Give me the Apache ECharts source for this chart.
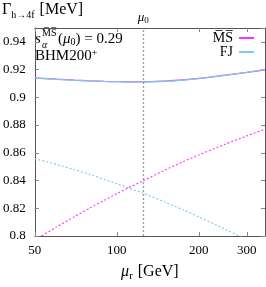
<!DOCTYPE html>
<html><head><meta charset="utf-8">
<script src="https://cdn.jsdelivr.net/npm/echarts@6/dist/echarts.min.js"></script>
<style>html,body{margin:0;padding:0;background:#fff}#c{width:266px;height:287px}</style>
</head><body><div id="c"></div>
<script>
const mu = [50,60,70,80,90,100,110,125,150,175,200,250,300,350];
const msSolid = [0.9141,0.9131,0.9124,0.9119,0.9115,0.9113,0.9112,0.9112,0.9117,0.9125,0.9136,0.9160,0.9180,0.9198];
const fjSolid = [0.9139,0.9130,0.9123,0.9118,0.9115,0.9113,0.9112,0.9112,0.9116,0.9124,0.9135,0.9159,0.9180,0.9200];
const msDotted = [0.7971,0.8064,0.8140,0.8203,0.8258,0.8305,0.8347,0.8398,0.8475,0.8535,0.8584,0.8662,0.8722,0.8770];
const fjDotted = [0.8558,0.8516,0.8478,0.8442,0.8408,0.8377,0.8348,0.8309,0.8245,0.8189,0.8138,0.8049,0.7972,0.7903];
const xTicks = [50,100,200,300];
const mu0 = 125;
const MS = 'M\u0305S\u0305';
const FF = 'Liberation Serif';
const cMS = '#ff33ff', cFJ = '#7ec8ec';

const pair = (ys) => mu.map((m,i)=>[m, ys[i]]);
const chart = echarts.init(document.getElementById('c'));
const axisLine = {show:true, lineStyle:{color:'#555', width:1}};
chart.setOption({
  animation:false,
  grid:{left:32, right:1, top:28, bottom:46},
  xAxis:[{
    type:'log', logBase:10, min:50, max:350,
    axisLine, splitLine:{show:false}, minorTick:{show:false},
    axisTick:{inside:true, length:4, lineStyle:{color:'#888'}, customValues:xTicks},
    axisLabel:{customValues:xTicks, color:'#000', fontFamily:FF, fontSize:13, margin:8},
    name:'{i|μ}{s|r} [GeV]', nameLocation:'middle', nameGap:26,
    nameTextStyle:{color:'#000', fontFamily:FF, fontSize:16,
      rich:{i:{fontStyle:'italic', fontFamily:FF, fontSize:16}, s:{fontSize:11, fontFamily:FF, padding:[9,1,0,0]}}}
  },{
    type:'log', logBase:10, min:50, max:350, position:'top',
    axisLine, splitLine:{show:false},
    axisTick:{inside:true, length:4, lineStyle:{color:'#888'}, customValues:xTicks},
    axisLabel:{show:false}
  }],
  yAxis:[{
    type:'value', min:0.8, max:0.95, interval:0.02,
    axisLine, splitLine:{show:false},
    axisTick:{inside:true, length:4, lineStyle:{color:'#888'}},
    axisLabel:{color:'#000', fontFamily:FF, fontSize:13, margin:9, showMaxLabel:false}
  },{
    type:'value', min:0.8, max:0.95, interval:0.02, position:'right',
    axisLine, splitLine:{show:false},
    axisTick:{inside:true, length:4, lineStyle:{color:'#888'}},
    axisLabel:{show:false}
  }],
  legend:{
    right:12, top:31, orient:'vertical', align:'right', itemGap:0, padding:0,
    itemWidth:15, itemHeight:2, icon:'rect',
    textStyle:{fontFamily:FF, fontSize:14, lineHeight:14, color:'#000', width:24, align:'right', padding:[0,1,0,0]},
    data:[{name:MS, itemStyle:{color:cMS}}, {name:'FJ', itemStyle:{color:cFJ}}]
  },
  series:[
    {name:MS, type:'line', data:pair(msSolid), showSymbol:false, smooth:0.3, lineStyle:{color:cMS, width:1.3}, itemStyle:{color:cMS},
     markLine:{silent:true, symbol:'none', lineStyle:{color:'#999', type:[2,2], width:1.3},
       label:{position:'end', distance:3, formatter:'{i|μ}{s|0}', color:'#000',
         rich:{i:{fontStyle:'italic', fontFamily:FF, fontSize:13}, s:{fontFamily:FF, fontSize:9, padding:[5,0,0,0]}}},
       data:[{xAxis:mu0}]}},
    {name:'FJ', type:'line', data:pair(fjSolid), showSymbol:false, smooth:0.3, lineStyle:{color:cFJ, width:1.3}, itemStyle:{color:cFJ}},
    {name:'msD', type:'line', data:pair(msDotted), showSymbol:false, smooth:0.2, lineStyle:{color:cMS, width:1.1, type:[2,2]}},
    {name:'fjD', type:'line', data:pair(fjDotted), showSymbol:false, smooth:0.2, lineStyle:{color:cFJ, width:1.1, type:[2,2]}}
  ],
  graphic:[
    {type:'text', left:2, top:2, style:{text:'Γ{s|h→4f} [MeV]', font:'16px '+FF, fill:'#000',
      rich:{s:{font:'10px '+FF, padding:[10,1,0,0]}}}},
    {type:'text', left:35, top:32, style:{text:'s', font:'italic 15px '+FF, fill:'#000'}},
    {type:'text', left:42, top:40, style:{text:'α', font:'italic 10px '+FF, fill:'#000'}},
    {type:'text', left:42, top:28, style:{text:MS, font:'10px '+FF, fill:'#000'}},
    {type:'text', left:58, top:32, style:{text:'({i|μ}{s|0}) = 0.29', font:'15px '+FF, fill:'#000',
      rich:{i:{font:'italic 15px '+FF}, s:{font:'10px '+FF, padding:[6,0,0,0]}}}},
    {type:'text', left:35, top:48, style:{text:'BHM200{p|+}', font:'15px '+FF, fill:'#000',
      rich:{p:{font:'10px '+FF, padding:[0,0,7,0]}}}}
  ]
});
</script></body></html>
